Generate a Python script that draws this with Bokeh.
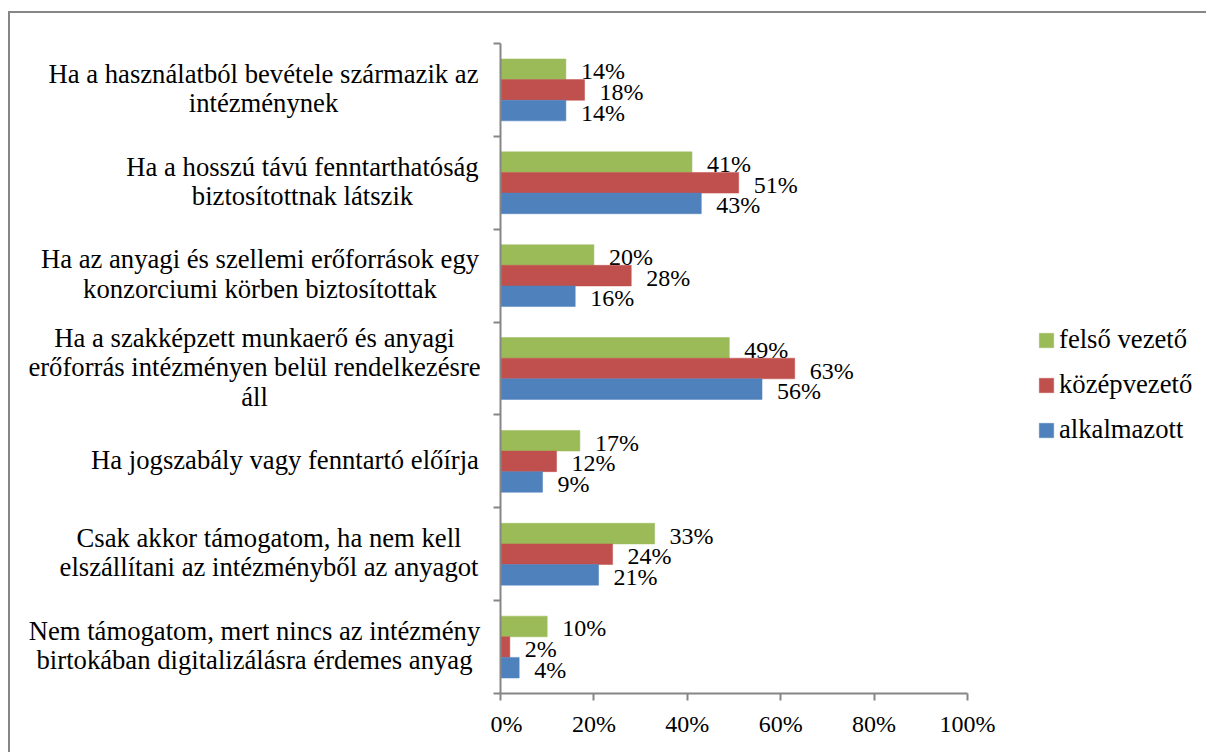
from bokeh.plotting import figure
from bokeh.layouts import row
from bokeh.models import ColumnDataSource, Range1d, FixedTicker, Legend, LegendItem
from bokeh.core.properties import value
from bokeh.embed import file_html
from bokeh.resources import INLINE

categories = [
    "Ha a használatból bevétele származik az\nintézménynek",
    "Ha a hosszú távú fenntarthatóság\nbiztosítottnak látszik",
    "Ha az anyagi és szellemi erőforrások egy\nkonzorciumi körben biztosítottak",
    "Ha a szakképzett munkaerő és anyagi\nerőforrás intézményen belül rendelkezésre\náll",
    "Ha jogszabály vagy fenntartó előírja",
    "Csak akkor támogatom, ha nem kell\nelszállítani az intézményből az anyagot",
    "Nem támogatom, mert nincs az intézmény\nbirtokában digitalizálásra érdemes anyag",
]
series_names = ["felső vezető", "középvezető", "alkalmazott"]
felso_vezeto = [14, 41, 20, 49, 17, 33, 10]
kozepvezeto = [18, 51, 28, 63, 12, 24, 2]
alkalmazott = [14, 43, 16, 56, 9, 21, 4]
x_ticks = [0, 20, 40, 60, 80, 100]

colors = ["#9BBB59", "#C0504D", "#4F81BD"]
FONT = "Liberation Serif"
GRAY = "#868686"

n = len(categories)
centers = [n - 0.5 - i for i in range(n)]
bar_h = 0.222
offsets = [bar_h, 0.0, -bar_h]

FRAME_H = 650
TOP, BOTTOM = 30, 61
FIG_H = FRAME_H + TOP + BOTTOM
LAB_W = 480
MAIN_W = 10 + 467 + 40
LEG_W = 1198 - LAB_W - MAIN_W

# ---------------- main chart ----------------
p = figure(width=MAIN_W, height=FIG_H, x_range=Range1d(0, 100), y_range=Range1d(0, n),
           output_backend="svg", toolbar_location=None,
           min_border_left=10, min_border_right=40, min_border_top=TOP, min_border_bottom=BOTTOM)
p.outline_line_color = None
p.xgrid.visible = False
p.ygrid.visible = False

for vals, off, col in zip([felso_vezeto, kozepvezeto, alkalmazott], offsets, colors):
    src = ColumnDataSource(dict(
        y=[c + off for c in centers],
        v=vals,
        lab=[f"{v}%" for v in vals],
    ))
    p.hbar(y="y", right="v", left=0, height=bar_h, source=src,
           fill_color=col, line_color=col, line_width=0.5)
    p.text(x="v", y="y", text="lab", source=src, x_offset=15, y_offset=2,
           text_align="left", text_baseline="middle",
           text_font=value(FONT), text_font_size="24px", text_color="black")

p.xaxis.ticker = FixedTicker(ticks=x_ticks)
p.xaxis.major_label_overrides = {t: f"{t}%" for t in x_ticks}
p.yaxis.ticker = FixedTicker(ticks=list(range(n + 1)))
p.yaxis.major_label_overrides = {i: "" for i in range(n + 1)}
p.yaxis.major_label_standoff = 0
for ax in (p.xaxis[0], p.yaxis[0]):
    ax.axis_line_color = GRAY
    ax.axis_line_width = 2
    ax.major_tick_line_color = GRAY
    ax.major_tick_line_width = 2
    ax.major_tick_out = 7
    ax.major_tick_in = 0
    ax.minor_tick_line_color = None
p.xaxis.major_label_text_font = FONT
p.xaxis.major_label_text_font_size = "24px"
p.xaxis.major_label_text_color = "black"
p.xaxis.major_label_standoff = 10

# ---------------- category labels (left panel, shared y scale) ----------------
lab = figure(width=LAB_W, height=FIG_H, x_range=Range1d(0, LAB_W), y_range=p.y_range,
             x_axis_type=None, y_axis_type=None, output_backend="svg", toolbar_location=None,
             min_border_left=0, min_border_right=0, min_border_top=TOP, min_border_bottom=BOTTOM)
lab.outline_line_color = None
lab.grid.visible = False

px_per_unit = FRAME_H / n
line_gap = 29.5 / px_per_unit
right_edge = LAB_W - 12
block_widths = [430, 352, 437, 448, 387, 419, 448]
lx, ly, lt = [], [], []
for c, txt, w in zip(centers, categories, block_widths):
    lines = txt.split("\n")
    m = len(lines)
    for k, line in enumerate(lines):
        lx.append(right_edge - w / 2)
        ly.append(c - (k - (m - 1) / 2) * line_gap + 1.5 / px_per_unit)
        lt.append(line)
lab.text(x=lx, y=ly, text=lt, text_align="center", text_baseline="middle",
         text_font=value(FONT), text_font_size="26.67px", text_color="black")

# ---------------- legend panel ----------------
leg = figure(width=LEG_W, height=FIG_H, x_range=Range1d(0, 1), y_range=Range1d(0, 1),
             x_axis_type=None, y_axis_type=None, output_backend="svg", toolbar_location=None,
             min_border_left=0, min_border_right=0, min_border_top=TOP, min_border_bottom=BOTTOM)
leg.outline_line_color = None
leg.grid.visible = False
# legend swatches only (renderers hidden, legend shows their style)
swatches = []
for col in colors:
    r = leg.hbar(y=[0.5], right=[1], left=0, height=0.1, fill_color=col, line_color=col, line_width=0.5)
    r.visible = False
    swatches.append(r)
legend = Legend(items=[LegendItem(label=nm, renderers=[r]) for nm, r in zip(series_names, swatches)],
                location=(30, 248), orientation="vertical",
                glyph_width=18, glyph_height=18, label_standoff=4,
                label_height=30, spacing=14, padding=0, margin=0,
                border_line_color=None, background_fill_alpha=0,
                inactive_fill_alpha=0,
                label_text_font=FONT, label_text_font_size="26.67px", label_text_color="black")
leg.add_layout(legend)

layout = row(lab, p, leg, spacing=0,
             styles={"margin-left": "10px", "margin-top": "13px",
                     "box-shadow": f"-2px -2px 0 0 {GRAY}"})

open("out.html", "w").write(file_html(layout, INLINE))
